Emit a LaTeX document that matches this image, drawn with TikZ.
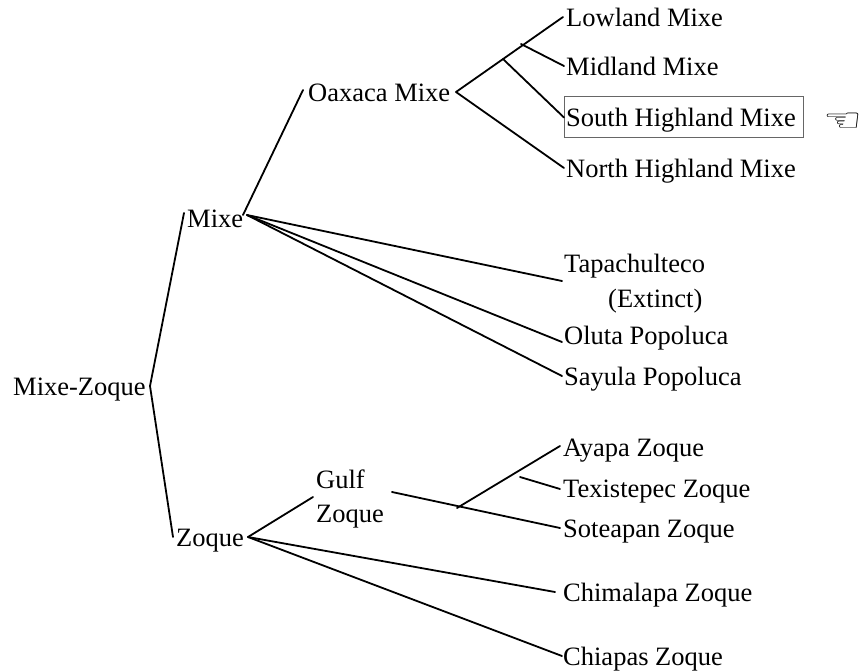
\documentclass[tikz,border=0pt]{standalone}
\usepackage{fontspec}
\setmainfont{Liberation Serif}
\newfontfamily\symfont{DejaVu Sans}
\tikzset{
 lang/.style={anchor=west,inner sep=0pt,text height=21pt,text depth=2pt,font=\fontsize{26.5}{26.5}\selectfont},
 branch/.style={draw=black,line width=1.8pt,line cap=round},
 mark box/.style={draw=black!60,line width=0.8pt,anchor=west,minimum height=41pt,minimum width=239pt,inner sep=0pt}
}
\begin{document}
\begin{tikzpicture}[x=1pt,y=-1pt]
\useasboundingbox (0,0) rectangle (863,672);
\node[lang] (mz) at (13,386) {Mixe-Zoque};
\node[lang] (mixe) at (187,218) {Mixe};
\node[lang] (zoque) at (176,537) {Zoque};
\node[lang] (oax) at (308,92) {Oaxaca Mixe};
\node[lang] (low) at (566,17) {Lowland Mixe};
\node[lang] (mid) at (566,66) {Midland Mixe};
\node[mark box] (box) at (564,116.500) {};
\node[lang] (south) at (566,117) {South Highland Mixe};
\node[lang] (north) at (566,168) {North Highland Mixe};
\node[anchor=center,inner sep=0pt,xscale=1.45,yscale=1.08,font=\symfont\fontsize{30}{30}\selectfont] (hand) at (843,122) {☜};
\node[lang] (tapa) at (564,263) {Tapachulteco};
\node[lang] (ext) at (608,298) {(Extinct)};
\node[lang] (oluta) at (564,335) {Oluta Popoluca};
\node[lang] (sayula) at (564,376) {Sayula Popoluca};
\node[lang] (gulf) at (316,479) {Gulf};
\node[lang] (gz) at (316,513) {Zoque};
\node[lang] (ayapa) at (563,447) {Ayapa Zoque};
\node[lang] (texi) at (563,488) {Texistepec Zoque};
\node[lang] (sote) at (563,528) {Soteapan Zoque};
\node[lang] (chim) at (563,592) {Chimalapa Zoque};
\node[lang] (chia) at (563,656) {Chiapas Zoque};
\coordinate (j0) at (150,386);
\coordinate (jm) at (247,215);
\coordinate (jz) at (248,537);
\coordinate (joax) at (456,92);
\coordinate (ja) at (521,44);
\coordinate (jb) at (503,59);
\coordinate (jg) at (457,508);
\coordinate (jt) at (520,477);
\coordinate (gs) at (392,492);
\draw[branch] (j0) -- ([xshift=-3pt,yshift=5pt]mixe.west);
\draw[branch] (j0) -- ([xshift=-3pt]zoque.west);
\draw[branch] ([xshift=-4pt]jm) -- ([xshift=-5pt,yshift=2pt]oax.west);
\draw[branch] (jm) -- ([xshift=-2pt,yshift=-18pt]tapa.west);
\draw[branch] (jm) -- ([xshift=-2pt,yshift=-7pt]oluta.west);
\draw[branch] (jm) -- ([xshift=-2pt]sayula.west);
\draw[branch] (joax) -- ([xshift=-3pt]low.west);
\draw[branch] (ja) -- ([xshift=-2pt]mid.west);
\draw[branch] (jb) -- ([xshift=0pt,yshift=-1pt]box.west);
\draw[branch] (joax) -- ([xshift=-2pt]north.west);
\draw[branch] (jz) -- ([xshift=-3pt,yshift=-18pt]gulf.west);
\draw[branch] (jz) -- ([xshift=-8pt]chim.west);
\draw[branch] (jz) -- ([xshift=-1pt]chia.west);
\draw[branch] (gs) -- ([xshift=-3pt]sote.west);
\draw[branch] (jg) -- ([xshift=-3pt,yshift=1pt]ayapa.west);
\draw[branch] (jt) -- ([xshift=-3pt,yshift=-1pt]texi.west);
\end{tikzpicture}
\end{document}
